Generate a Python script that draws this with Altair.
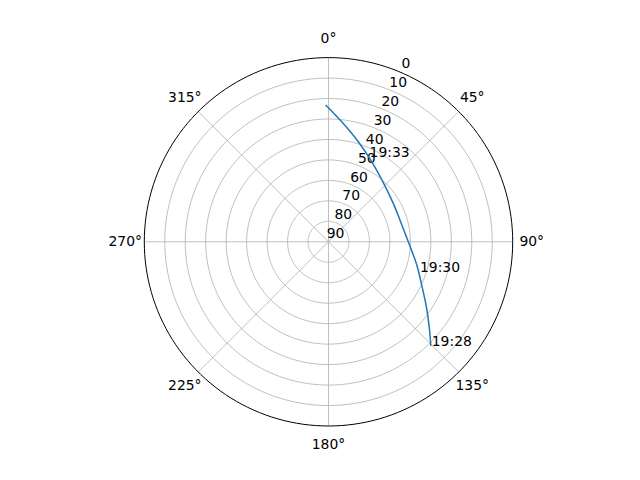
import altair as alt
import pandas as pd

# satellite pass track (azimuth deg clockwise from north, elevation deg)
curve_az = [135.5, 130.6, 124.1, 114.9, 104.7, 90.0, 73.0, 59.3, 45.4, 28.3, 16.6, 6.3, 358.8]
curve_el = [18.7, 25.1, 32.1, 39.8, 45.4, 51.0, 53.5, 53.2, 51.2, 45.5, 39.0, 31.0, 23.1]

time_labels = ["19:28", "19:30", "19:33"]
time_az = [135.5, 108.4, 25.3]
time_el = [18.7, 43.4, 44.2]

ring_el = [10, 20, 30, 40, 50, 60, 70, 80]
outer_el = [0]
radial_ticks = [0, 10, 20, 30, 40, 50, 60, 70, 80, 90]
radial_label_az = 22.5
spoke_az = [0, 45, 90, 135, 180, 225, 270, 315]
spoke_labels = ["0°", "45°", "90°", "135°", "180°", "225°", "270°", "315°"]

FONT = "DejaVu Sans"
FS = 13.9
W = 368.4

xs = alt.Scale(domain=[-90, 90], nice=False, zero=False)
ys = alt.Scale(domain=[-90, 90], nice=False, zero=False)

XEXP = "(90 - datum.el) * sin(datum.az * PI / 180)"
YEXP = "(90 - datum.el) * cos(datum.az * PI / 180)"

angles = list(range(0, 361, 2))

def ring_frame(els):
    rows = [{"ring": e, "el": e, "az": a, "k": i} for e in els for i, a in enumerate(angles)]
    return pd.DataFrame(rows)

grid_rings = alt.Chart(ring_frame(ring_el)).transform_calculate(x=XEXP, y=YEXP).mark_line(
    color="#b0b0b0", strokeWidth=0.8
).encode(
    x=alt.X("x:Q", scale=xs, axis=None),
    y=alt.Y("y:Q", scale=ys, axis=None),
    detail="ring:N",
    order="k:Q",
)

outer_ring = alt.Chart(ring_frame(outer_el)).transform_calculate(x=XEXP, y=YEXP).mark_line(
    color="black", strokeWidth=1.0
).encode(
    x=alt.X("x:Q", scale=xs, axis=None),
    y=alt.Y("y:Q", scale=ys, axis=None),
    detail="ring:N",
    order="k:Q",
)

spokes_df = pd.DataFrame({"az": spoke_az, "label": spoke_labels})
spokes = alt.Chart(spokes_df).transform_calculate(
    x0="0", y0="0",
    x1="90 * sin(datum.az * PI / 180)",
    y1="90 * cos(datum.az * PI / 180)",
).mark_rule(color="#b0b0b0", strokeWidth=0.8).encode(
    x=alt.X("x0:Q", scale=xs, axis=None),
    y=alt.Y("y0:Q", scale=ys, axis=None),
    x2="x1:Q",
    y2="y1:Q",
)

theta_labels = alt.Chart(spokes_df).transform_calculate(
    x="99.3 * sin(datum.az * PI / 180)",
    y="99.3 * cos(datum.az * PI / 180)",
).mark_text(font=FONT, fontSize=FS, color="black", align="center", baseline="middle").encode(
    x=alt.X("x:Q", scale=xs, axis=None),
    y=alt.Y("y:Q", scale=ys, axis=None),
    text="label:N",
)

rl_df = pd.DataFrame({"v": radial_ticks, "az": [radial_label_az] * len(radial_ticks)})
radial_labels = alt.Chart(rl_df).transform_calculate(
    el="datum.v", x=XEXP, y=YEXP, t="'' + datum.v"
).mark_text(font=FONT, fontSize=FS, color="black", align="center", baseline="middle", dx=7, dy=-7.5).encode(
    x=alt.X("x:Q", scale=xs, axis=None),
    y=alt.Y("y:Q", scale=ys, axis=None),
    text="t:N",
)

curve_df = pd.DataFrame({"az": curve_az, "el": curve_el, "i": list(range(len(curve_az)))})
curve = alt.Chart(curve_df).transform_calculate(x=XEXP, y=YEXP).mark_line(
    color="#1f77b4", strokeWidth=1.5, interpolate="catmull-rom"
).encode(
    x=alt.X("x:Q", scale=xs, axis=None),
    y=alt.Y("y:Q", scale=ys, axis=None),
    order="i:Q",
)

time_df = pd.DataFrame({"az": time_az, "el": time_el, "t": time_labels})
times = alt.Chart(time_df).transform_calculate(x=XEXP, y=YEXP).mark_text(
    font=FONT, fontSize=FS, color="black", align="left", baseline="alphabetic", dx=1
).encode(
    x=alt.X("x:Q", scale=xs, axis=None),
    y=alt.Y("y:Q", scale=ys, axis=None),
    text="t:N",
)

chart = alt.layer(
    grid_rings, spokes, outer_ring, radial_labels, theta_labels, curve, times
).properties(
    width=W, height=W,
    autosize=alt.AutoSizeParams(type="none"),
    padding={"left": 136.3, "top": 49.6, "right": 119.3, "bottom": 46},
    background="white",
).configure_view(strokeWidth=0)

chart.save("out.html", embed_options={"renderer": "svg", "actions": False})
